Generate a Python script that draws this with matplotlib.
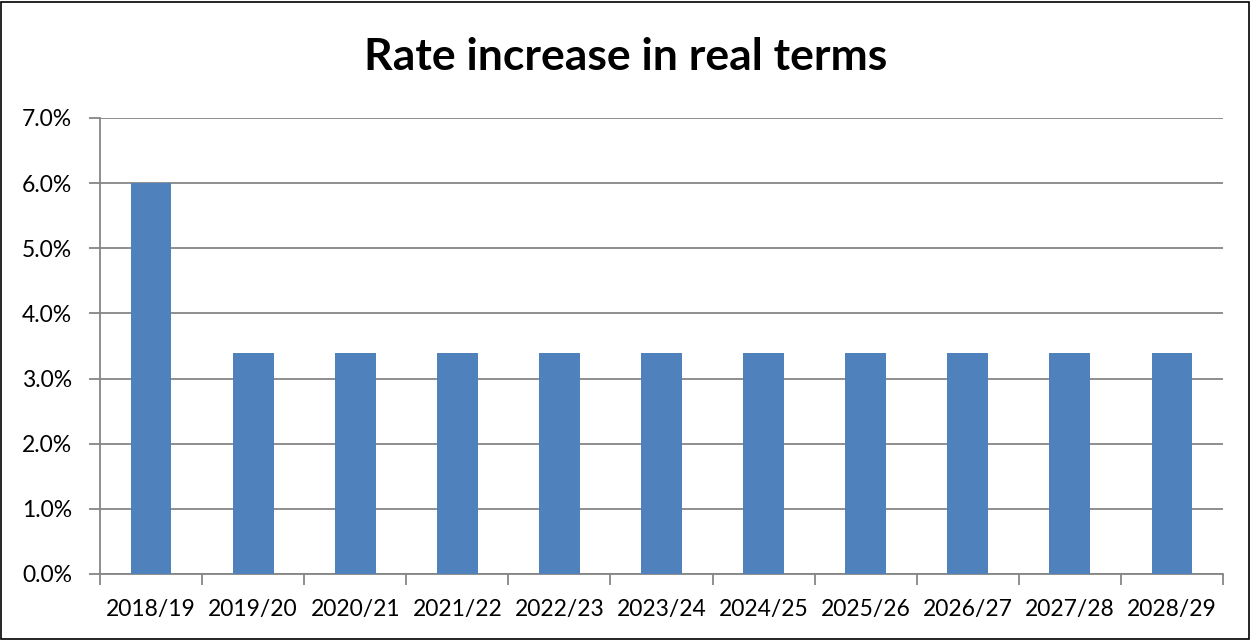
import numpy as np
import matplotlib.pyplot as plt
from matplotlib.ticker import FuncFormatter, FixedLocator
from matplotlib.patches import Rectangle

years = ['2018/19', '2019/20', '2020/21', '2021/22', '2022/23', '2023/24',
         '2024/25', '2025/26', '2026/27', '2027/28', '2028/29']
rates = [0.060, 0.034, 0.034, 0.034, 0.034, 0.034, 0.034, 0.034, 0.034, 0.034, 0.034]

plt.rcParams['font.family'] = ['Lato', 'DejaVu Sans']

fig = plt.figure(figsize=(12.51, 6.4), dpi=100)
ax = fig.add_axes([100 / 1251, 66 / 640, 1123 / 1251, 456 / 640])

x = np.arange(len(years))
ax.bar(x, rates, width=0.4, color='#4f81bd', zorder=3)

ax.set_xlim(-0.5, len(years) - 0.5)
ax.set_ylim(0, 0.07)
ax.set_yticks(np.arange(0, 0.0701, 0.01))
ax.yaxis.set_major_formatter(FuncFormatter(lambda v, p: f'{v * 100:.1f}%'))
ax.grid(axis='y', color='#868686', linewidth=1.3, zorder=0)

ax.set_xticks(x)
ax.set_xticklabels(years)
ax.xaxis.set_minor_locator(FixedLocator(np.arange(-0.5, len(years), 1)))
ax.tick_params(axis='x', which='major', length=0, pad=18, labelsize=16.5)
ax.tick_params(axis='x', which='minor', length=8, width=1.3, color='#868686')
ax.tick_params(axis='y', length=8, width=1.3, color='#868686', labelsize=16.5, pad=12)

for s in ['top', 'right']:
    ax.spines[s].set_visible(False)
for s in ['left', 'bottom']:
    ax.spines[s].set_color('#868686')
    ax.spines[s].set_linewidth(1.3)

fig.text(0.5, 1 - 57 / 640, 'Rate increase in real terms', ha='center', va='center',
         fontsize=32, fontweight='bold')

fig.patches.append(Rectangle((1 / 1251, 1 / 640), 1248 / 1251, 637 / 640, transform=fig.transFigure,
                             fill=False, edgecolor='black', linewidth=1.2))

fig.savefig('out.png', dpi=100)
